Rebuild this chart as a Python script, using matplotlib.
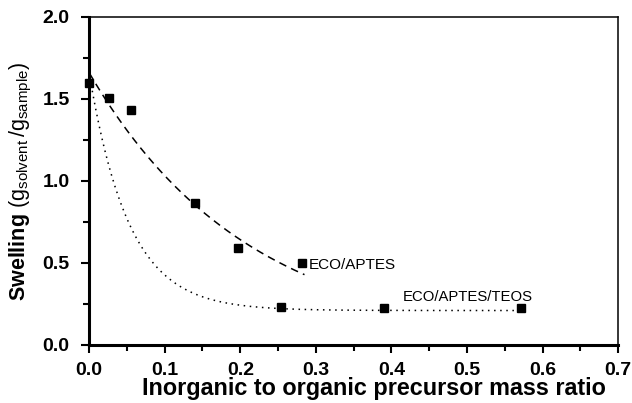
import numpy as np
import matplotlib
matplotlib.use("Agg")
import matplotlib.pyplot as plt
from matplotlib.ticker import MultipleLocator

plt.rcParams['font.family'] = ['Liberation Sans', 'DejaVu Sans']
plt.rcParams['mathtext.fontset'] = 'custom'
plt.rcParams['mathtext.rm'] = 'Liberation Sans'
plt.rcParams['mathtext.bf'] = 'Liberation Sans:bold'

# Data
ratio_aptes = [0.0, 0.026, 0.056, 0.140, 0.197, 0.282]
swell_aptes = [1.60, 1.505, 1.43, 0.865, 0.59, 0.50]
ratio_teos = [0.254, 0.390, 0.571]
swell_teos = [0.23, 0.225, 0.225]

# Fitted decay curves (y = c + a*exp(-b*x)) : parameters
fit_aptes = dict(a=1.66, b=4.75, c=0.0, xmax=0.285)
fit_teos = dict(a=1.45, b=19.0, c=0.21, xmax=0.572)

xticks = [0.0, 0.1, 0.2, 0.3, 0.4, 0.5, 0.6, 0.7]
yticks = [0.0, 0.5, 1.0, 1.5, 2.0]

fig = plt.figure(figsize=(6.32, 4.03), dpi=100)
ax = fig.add_axes([0.141, 0.144, 0.837, 0.814])

xa = np.linspace(0, fit_aptes['xmax'], 200)
ax.plot(xa, fit_aptes['c'] + fit_aptes['a'] * np.exp(-fit_aptes['b'] * xa),
        ls=(0, (5, 3.5)), color='black', lw=1.1)
xt = np.linspace(0, fit_teos['xmax'], 400)
ax.plot(xt, fit_teos['c'] + fit_teos['a'] * np.exp(-fit_teos['b'] * xt),
        ls=(0, (1, 3)), color='black', lw=1.1)

ax.plot(ratio_aptes, swell_aptes, 's', color='black', ms=5.5, clip_on=False, zorder=1.5)
ax.plot(ratio_teos, swell_teos, 's', color='black', ms=5.5, clip_on=False)

ax.text(0.290, 0.49, 'ECO/APTES', fontsize=11, va='center', ha='left')
ax.text(0.415, 0.295, 'ECO/APTES/TEOS', fontsize=10.7, va='center', ha='left')

ax.set_xlim(0, 0.7)
ax.set_ylim(0, 2.0)
ax.set_xticks(xticks)
ax.set_yticks(yticks)
ax.set_xticklabels([f'{v:.1f}' for v in xticks], fontsize=14, fontweight='bold')
ax.set_yticklabels([f'{v:.1f}' for v in yticks], fontsize=14, fontweight='bold')
ax.xaxis.set_minor_locator(MultipleLocator(0.05))
ax.yaxis.set_minor_locator(MultipleLocator(0.25))
ax.tick_params(which='major', direction='out', length=6, width=1.5)
ax.tick_params(which='minor', direction='out', length=4, width=1.5)
ax.tick_params(axis='x', which='major', pad=6)
ax.tick_params(axis='y', which='major', pad=8)
ax.tick_params(top=False, right=False)

ax.spines['left'].set_linewidth(2.2)
ax.spines['bottom'].set_linewidth(2.2)
ax.spines['top'].set_linewidth(1.1)
ax.spines['right'].set_linewidth(1.1)

ax.set_xlabel('Inorganic to organic precursor mass ratio', fontsize=16.8, fontweight='bold')
ax.xaxis.set_label_coords(0.539, -0.098)
ax.set_ylabel(r'$\mathbf{Swelling}$ ($\mathregular{g_{solvent}\,/g_{sample}}$)', fontsize=15.5, labelpad=6)

fig.savefig('out.png', dpi=100)
